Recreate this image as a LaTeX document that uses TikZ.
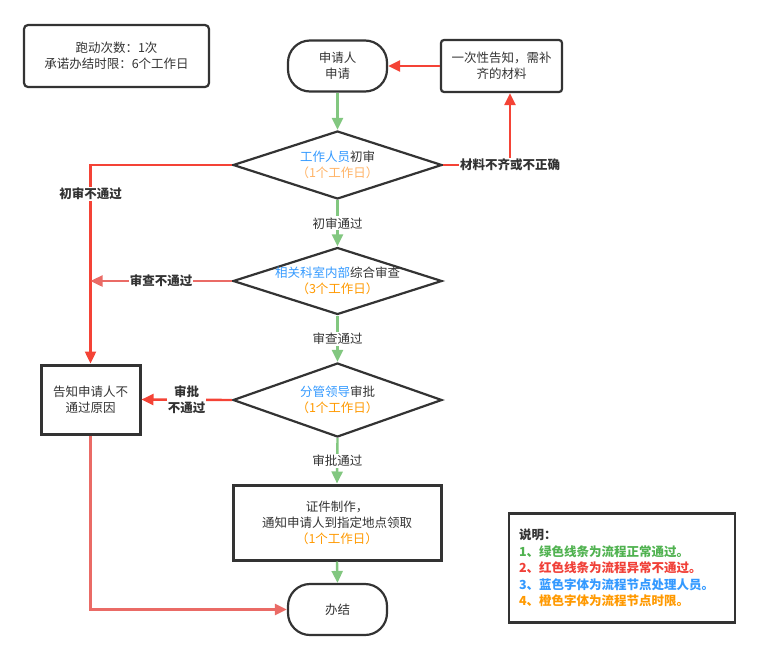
\documentclass[tikz,border=0pt]{standalone}
\usepackage{fontspec}
\setmainfont{Noto Sans CJK SC}
\usetikzlibrary{shapes.geometric,arrows.meta}
\definecolor{txt}{RGB}{51,51,51}
\definecolor{gline}{RGB}{130,199,128}
\definecolor{rline}{RGB}{244,67,54}
\definecolor{lrline}{RGB}{234,107,102}
\definecolor{bluet}{RGB}{51,153,255}
\definecolor{orangel}{RGB}{255,179,102}
\definecolor{oranget}{RGB}{255,153,0}
\definecolor{legg}{RGB}{80,178,80}
\definecolor{legr}{RGB}{240,64,56}
\tikzset{
  every node/.style={font=\fontsize{12.5}{16}\selectfont, text=txt},
  base/.style={draw=txt, line width=2.2pt, align=center, inner sep=0pt},
  roundbox/.style={base, rounded corners=4pt},
  pill/.style={base, rounded corners=22pt, minimum width=99pt, minimum height=51pt},
  thickbox/.style={base, line width=3pt},
  decision/.style={draw=txt, line width=2.2pt, diamond, inner sep=0pt, minimum width=209pt, minimum height=68pt},
  tip/.style={-{Triangle[length=12pt,width=11pt]}},
  gl/.style={draw=gline, line width=2.4pt, tip},
  rl/.style={draw=rline, line width=2.4pt},
  lrl/.style={draw=lrline, line width=2.4pt},
  elabel/.style={fill=white, inner sep=1pt, align=center},
  blabel/.style={elabel, font=\fontsize{12.5}{16}\selectfont\bfseries},
}
\begin{document}
\begin{tikzpicture}[x=1pt,y=-1pt]
\useasboundingbox (0,0) rectangle (760,659);
% info box
\node[roundbox, minimum width=185pt, minimum height=62pt] (info) at (116.5,56) {跑动次数：1次\\承诺办结时限：6个工作日};
% start
\node[pill] (start) at (337.5,66) {申请人\\申请};
% notice
\node[roundbox, rounded corners=3pt, minimum width=121pt, minimum height=52pt] (notice) at (501.5,66) {一次性告知，需补\\齐的材料};
% decisions
\node[decision, label={[align=center]center:{\textcolor{bluet}{工作人员}初审\\\textcolor{orangel}{（1个工作日）}}}] (d1) at (337.5,165) {};
\node[decision, minimum height=67pt, label={[align=center]center:{\textcolor{bluet}{相关科室内部}综合审查\\\textcolor{oranget}{（3个工作日）}}}] (d2) at (337.5,281) {};
\node[decision, minimum height=74pt, label={[align=center]center:{\textcolor{bluet}{分管领导}审批\\\textcolor{oranget}{（1个工作日）}}}] (d3) at (337.5,400) {};
% reject box
\node[thickbox, minimum width=99pt, minimum height=69pt] (reject) at (90.5,399.5) {告知申请人不\\通过原因};
% process
\node[thickbox, minimum width=208pt, minimum height=75pt] (proc) at (337,522.5) {证件制作，\\通知申请人到指定地点领取\\\textcolor{oranget}{（1个工作日）}};
% end
\node[pill] (end) at (337.5,609.5) {办结};
% legend
\node[thickbox, line width=2.6pt, minimum width=226pt, minimum height=109pt, text width=206pt, align=left, font=\fontsize{12.5}{16.5}\selectfont\bfseries] (legend) at (622,568) {说明：\\\textcolor{legg}{1、绿色线条为流程正常通过。}\\\textcolor{legr}{2、红色线条为流程异常不通过。}\\\textcolor{bluet}{3、蓝色字体为流程节点处理人员。}\\\textcolor{oranget}{4、橙色字体为流程节点时限。}};
% connectors
\draw[rl, tip] (notice.west) -- (start.east);
\draw[gl] (start.south) -- (d1.north);
\draw[rl, tip] (d1.east) -| node[blabel, pos=0.5] {材料不齐或不正确} ([xshift=8.5pt]notice.south);
\draw[rl, tip] (d1.west) -| node[blabel, pos=0.572] {初审不通过} (reject.north);
\draw[gl] (d1.south) -- node[elabel] {初审通过} (d2.north);
\draw[lrl, tip] (d2.west) -- node[blabel] {审查不通过} (d2.west -| reject.north);
\draw[gl] (d2.south) -- node[elabel] {审查通过} (d3.north);
\draw[rl, tip] (d3.west) -- node[blabel] {审批\\不通过} (reject.east);
\draw[gl] (d3.south) -- node[elabel] {审批通过} (proc.north);
\draw[gl] (proc.south) -- (end.north);
\draw[lrl, tip] (reject.south) |- (end.west);
\end{tikzpicture}
\end{document}
